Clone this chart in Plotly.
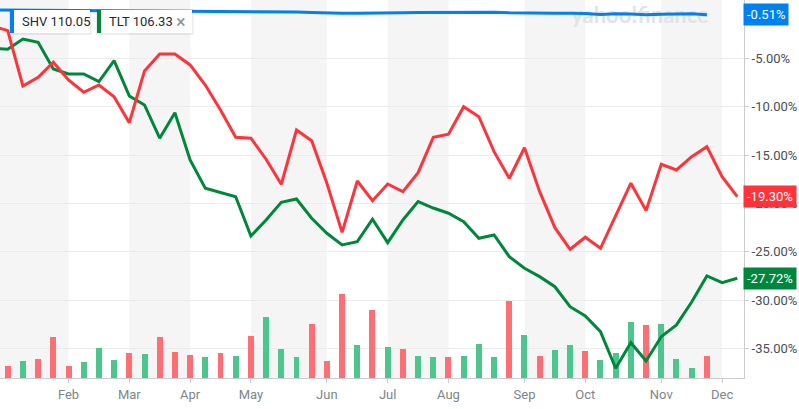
import plotly.graph_objects as go
import pandas as pd

# ---------------- data ----------------
week_start = "2022-01-03"          # first weekly point (Jan 3, 2022)
n_weeks = 50
weeks = pd.date_range(week_start, periods=n_weeks, freq="7D")

# % change series (weekly)
main_pct = [-1.66, -2.15, -7.86, -6.96, -5.41, -7.24, -8.51, -7.76, -8.97, -11.65,
            -6.31, -4.56, -4.56, -5.69, -7.76, -10.34, -13.16, -13.26, -15.43, -18.02,
            -12.41, -13.51, -17.91, -22.98, -17.68, -19.71, -17.99, -18.78, -16.82, -13.16,
            -12.85, -10.00, -11.03, -14.65, -17.40, -14.24, -18.78, -22.50, -24.73, -23.49,
            -24.63, -21.19, -17.91, -20.74, -15.95, -16.54, -15.17, -14.13, -17.23, -19.30]
tlt_pct = [-3.97, -4.07, -3.01, -3.35, -6.11, -6.62, -6.62, -7.42, -5.25, -8.89,
           -9.82, -13.26, -10.62, -15.51, -18.43, -18.88, -19.30, -23.36, -21.70, -19.88,
           -19.54, -21.53, -23.08, -24.29, -23.95, -21.63, -24.05, -21.70, -19.81, -20.47,
           -21.01, -21.88, -23.60, -23.25, -25.50, -26.69, -27.56, -28.60, -30.66, -31.62,
           -33.24, -37.02, -34.38, -36.27, -33.76, -32.55, -30.18, -27.49, -28.18, -27.72]
shv_pct = [-0.02, -0.03, -0.02, -0.04, -0.03, -0.05, -0.04, -0.05, -0.06, -0.05,
           -0.07, -0.08, -0.10, -0.14, -0.17, -0.18, -0.18, -0.17, -0.18, -0.20,
           -0.22, -0.27, -0.32, -0.35, -0.34, -0.35, -0.33, -0.30, -0.27, -0.26,
           -0.30, -0.28, -0.25, -0.24, -0.30, -0.34, -0.34, -0.35, -0.36, -0.37,
           -0.47, -0.40, -0.42, -0.50, -0.44, -0.43, -0.40, -0.51]

# weekly volume (millions), Jan 10 .. Nov 28
volume = [12.3, 16.7, 18.7, 40.7, 12.3, 15.7, 29.7, 18.0, 24.7, 23.7,
          40.7, 25.7, 22.7, 20.7, 24.7, 21.7, 41.7, 60.7, 28.7, 20.7,
          53.7, 16.7, 83.7, 32.7, 67.7, 30.7, 28.7, 22.3, 21.3, 20.7,
          22.3, 33.7, 20.7, 76.7, 42.7, 21.7, 27.7, 32.7, 26.7, 17.7,
          24.7, 55.7, 52.7, 53.7, 18.7, 9.7, 22.0]
vol_dir = list("rgrrrgggrgrrrgrgrgggrrrgrgrggrgggrgrggrgggrgggr")

month_ticks = ["2022-01-03", "2022-02-07", "2022-03-07", "2022-04-04", "2022-05-02", "2022-06-06",
               "2022-07-04", "2022-08-01", "2022-09-05", "2022-10-03", "2022-11-07", "2022-12-05"]
month_labels = ["Jan", "Feb", "Mar", "Apr", "May", "Jun", "Jul", "Aug", "Sep", "Oct", "Nov", "Dec"]

y_ticks = [-35, -30, -25, -20, -15, -10, -5]
y_ticktext = ["-35.00%", "-30.00%", "-25.00%", "-20.00%", "-15.00%", "-10.00%", "-5.00%"]

legend_items = [("SHV", "110.05"), ("TLT", "106.33")]

# ---------------- styling ----------------
RED = "#ff333a"
GREEN = "#00873c"
BLUE = "#0081f2"
BAR_RED = "#ff6e73"
BAR_GREEN = "#4cc68d"
FONT = "Roboto"

W, H = 799, 409
ML, MR, MT, MB = 0, 55, 0, 31
PW, PH = W - ML - MR, H - MT - MB

x0 = pd.Timestamp(week_start) + pd.Timedelta(days=3.45)
x1 = pd.Timestamp(week_start) + pd.Timedelta(days=346.1)
vol_range = [0, 378]
pct_range = [-38.03, 1.02]


def px(x):
    return x / PW


def py(y):
    return 1 - y / PH


fig = go.Figure()

# watermark (drawn first, under lines)
wm_x = x0 + (x1 - x0) * (640 / PW)
fig.add_trace(go.Scatter(x=[wm_x], y=[vol_range[1] * (1 - 17 / PH)], mode="text",
                         text=["<b>yahoo!finance</b>"], textfont=dict(family="Lato", size=22, color="#e0e3e7"),
                         hoverinfo="skip", showlegend=False, yaxis="y"))

# volume bars
fig.add_trace(go.Bar(x=weeks[1:1 + len(volume)], y=volume,
                     marker=dict(color=[BAR_RED if d == "r" else BAR_GREEN for d in vol_dir], line=dict(width=0)),
                     width=2.76 * 86400000, showlegend=False, yaxis="y"))

# lines
fig.add_trace(go.Scatter(x=weeks[:len(shv_pct)], y=shv_pct, mode="lines",
                         line=dict(color=BLUE, width=3), showlegend=False, yaxis="y2"))
fig.add_trace(go.Scatter(x=weeks, y=tlt_pct, mode="lines",
                         line=dict(color=GREEN, width=3), showlegend=False, yaxis="y2"))
fig.add_trace(go.Scatter(x=weeks, y=main_pct, mode="lines",
                         line=dict(color=RED, width=3), showlegend=False, yaxis="y2"))

shapes = []
# alternating month bands
for i in range(0, len(month_ticks) - 1, 2):
    shapes.append(dict(type="rect", xref="x", yref="paper", x0=month_ticks[i], x1=month_ticks[i + 1],
                       y0=0, y1=1, fillcolor="#f5f5f5", line=dict(width=0), layer="between"))

annotations = []
# legend chips
chip_geom = [(10, 90, BLUE), (97, 192, GREEN)]
for (sym, val), (cx0, cx1, col) in zip(legend_items, chip_geom):
    shapes.append(dict(type="rect", xref="paper", yref="paper", x0=px(cx0 - 1), x1=px(cx1 + 1.5),
                       y0=py(35), y1=py(9), fillcolor="rgba(0,0,0,0.07)", line=dict(width=0), layer="above"))
    shapes.append(dict(type="rect", xref="paper", yref="paper", x0=px(cx0), x1=px(cx1),
                       y0=py(33), y1=py(10), fillcolor="#ffffff", line=dict(width=0), layer="above"))
    shapes.append(dict(type="rect", xref="paper", yref="paper", x0=px(cx0), x1=px(cx0 + 4),
                       y0=py(33), y1=py(10), fillcolor=col, line=dict(width=0), layer="above"))
    annotations.append(dict(xref="paper", yref="paper", x=px(cx0 + 10), y=py(22), xanchor="left",
                            yanchor="middle", showarrow=False, text=f"{sym} {val}",
                            font=dict(family=FONT, size=13, color="#232a31")))
annotations.append(dict(xref="paper", yref="paper", x=px(181), y=py(21.5), xanchor="center",
                        yanchor="middle", showarrow=False, text="×",
                        font=dict(family=FONT, size=18, color="#8c949b")))

# right-side value labels
for val, col in [(shv_pct[-1], BLUE), (main_pct[-1], RED), (tlt_pct[-1], GREEN)]:
    annotations.append(dict(xref="paper", yref="y2", x=1, y=val, xanchor="left", yanchor="middle",
                            xshift=-1, showarrow=False, text=f"{val:.2f}%", bgcolor=col,
                            borderpad=3, font=dict(family=FONT, size=13, color="#ffffff")))

fig.update_layout(
    width=W, height=H, margin=dict(l=ML, r=MR, t=MT, b=MB),
    paper_bgcolor="#ffffff", plot_bgcolor="#ffffff",
    font=dict(family=FONT, size=13, color="#464e56"),
    bargap=0, hovermode=False,
    xaxis=dict(type="date", range=[x0, x1], tickvals=month_ticks, ticktext=month_labels,
               showgrid=False, zeroline=False, showline=True, linecolor="#c9cdd2", linewidth=1,
               ticks="outside", ticklen=4, tickcolor="#c9cdd2",
               tickfont=dict(family=FONT, size=13, color="#7d858d")),
    yaxis=dict(range=vol_range, visible=False, showgrid=False, zeroline=False, fixedrange=True),
    yaxis2=dict(range=pct_range, overlaying="y", side="right", tickvals=y_ticks, ticktext=y_ticktext,
                showgrid=True, gridcolor="#ebebeb", gridwidth=1, zeroline=False,
                showline=True, linecolor="#c9cdd2", linewidth=1,
                ticks="outside", ticklen=4, tickcolor="#c9cdd2",
                tickfont=dict(family=FONT, size=13, color="#464e56")),
    shapes=shapes, annotations=annotations,
)

fig.write_html("out.html")
